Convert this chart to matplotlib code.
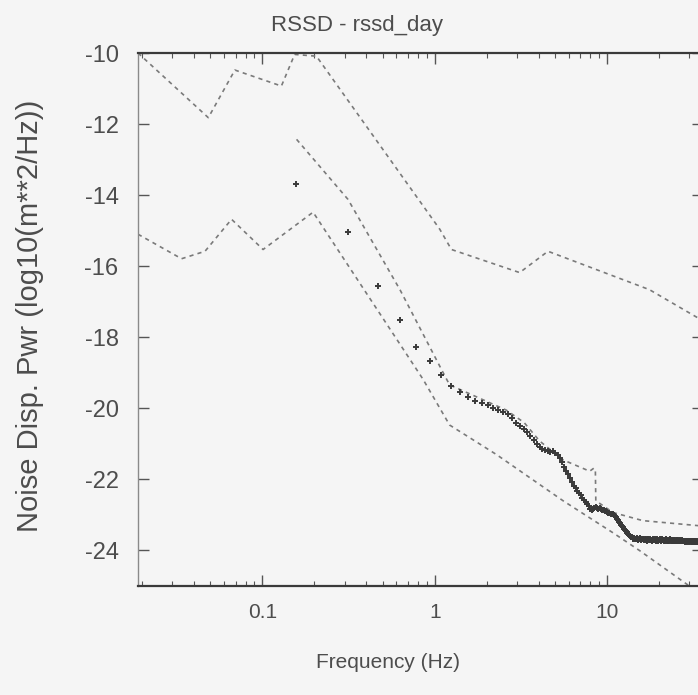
import matplotlib
matplotlib.use("Agg")
import matplotlib.pyplot as plt
from matplotlib.ticker import FixedLocator, LogLocator, NullFormatter

plt.rcParams["font.family"] = ["Liberation Sans", "DejaVu Sans"]

# Upper bound of the noise model
upper_f = [0.019, 0.0486, 0.0693, 0.129, 0.154, 0.206, 0.819, 1.07, 1.25, 3.11, 4.54, 17.6, 33.5, 36.0]
upper_db = [-10.0, -11.82, -10.48, -10.93, -10.04, -10.09, -14.17, -14.96, -15.53, -16.18, -15.58, -16.66, -17.45, -17.55]

# Middle (typical) curve
mid_f = [0.158, 0.314, 0.63, 1.12, 1.22, 2.6, 3.3, 4.06, 5.55, 7.92, 8.4, 8.55, 8.6, 10.8, 16.1, 33.5, 36.0]
mid_db = [-12.43, -14.12, -16.67, -19.0, -19.34, -20.05, -20.4, -20.92, -21.45, -21.77, -21.68, -21.75, -22.6, -22.93, -23.16, -23.3, -23.32]

# Lower bound of the noise model
lower_f = [0.019, 0.034, 0.0465, 0.0663, 0.101, 0.197, 0.855, 1.22, 2.28, 5.55, 10.8, 15.4, 30.0, 36.0]
lower_db = [-15.1, -15.79, -15.58, -14.68, -15.53, -14.48, -19.18, -20.47, -21.3, -22.6, -23.5, -24.0, -25.0, -25.3]

# Measured spectrum (rssd_day), one value per frequency bin
df = 0.15625
spec_db = [
    -13.70, -15.03, -16.56, -17.52, -18.26, -18.68, -19.06, -19.37, -19.54, -19.67,
    -19.80, -19.85, -19.92, -20.00, -20.06, -20.10, -20.16, -20.27, -20.40, -20.50,
    -20.58, -20.68, -20.77, -20.88, -21.00, -21.10, -21.15, -21.18, -21.20, -21.22,
    -21.20, -21.25, -21.30, -21.40, -21.52, -21.65, -21.75, -21.86, -21.97, -22.08,
    -22.18, -22.25, -22.32, -22.38, -22.45, -22.52, -22.57, -22.63, -22.70, -22.76,
    -22.82, -22.86, -22.83, -22.80, -22.78, -22.80, -22.82, -22.80, -22.83, -22.85,
    -22.86, -22.88, -22.90, -22.93, -22.94, -22.95, -22.96, -22.97, -22.98, -23.00,
    -23.03, -23.07, -23.11, -23.15, -23.19, -23.23, -23.27, -23.31, -23.35, -23.39,
    -23.43, -23.46, -23.49, -23.52, -23.55, -23.57, -23.59, -23.61, -23.63, -23.64,
    -23.68, -23.65, -23.67, -23.69, -23.66, -23.68, -23.70, -23.67, -23.66, -23.69,
    -23.70, -23.68, -23.67, -23.69, -23.71, -23.69, -23.68, -23.70, -23.72, -23.69,
    -23.68, -23.70, -23.71, -23.69, -23.70, -23.72, -23.70, -23.69, -23.71, -23.70,
    -23.68, -23.70, -23.72, -23.71, -23.69, -23.70, -23.72, -23.71, -23.70, -23.69,
    -23.71, -23.72, -23.70, -23.69, -23.71, -23.73, -23.71, -23.70, -23.72, -23.71,
    -23.69, -23.70, -23.72, -23.73, -23.71, -23.70, -23.72, -23.71, -23.69, -23.71,
    -23.73, -23.72, -23.70, -23.71, -23.73, -23.72, -23.70, -23.71, -23.72, -23.74,
    -23.72, -23.71, -23.70, -23.72, -23.73, -23.71, -23.72, -23.74, -23.73, -23.71,
    -23.72, -23.74, -23.73, -23.72, -23.71, -23.73, -23.74, -23.72, -23.73, -23.75,
    -23.73, -23.72, -23.74, -23.73, -23.72, -23.74, -23.75, -23.73, -23.72, -23.74,
    -23.75, -23.74, -23.73, -23.74, -23.76, -23.74, -23.73, -23.75, -23.74, -23.73,
    -23.75, -23.76, -23.74, -23.75, -23.74, -23.76, -23.75, -23.74, -23.76, -23.75,
    -23.74, -23.76, -23.75, -23.76, -23.75, -23.74, -23.76, -23.77, -23.75, -23.76,
    -23.77, -23.75, -23.76, -23.77, -23.76, -23.75, -23.77, -23.76, -23.78, -23.76,
]
spec_f = [df * (i + 1) for i in range(len(spec_db))]

y_ticks = [-10, -12, -14, -16, -18, -20, -22, -24]
x_ticks = [0.1, 1, 10]
x_tick_labels = ["0.1", "1", "10"]

text_col = "#4d4d4d"
line_col = "#7a7a7a"
bg = "#f5f5f5"

fig = plt.figure(figsize=(6.98, 6.95), dpi=100, facecolor=bg)
W, H = 698, 695
# axes run past the right edge of the figure (the original page is cropped)
ax = fig.add_axes([138 / W, (H - 586) / H, 565 / W, (586 - 53) / H], facecolor=bg)

dash = (0, (2.5, 2.5))
ax.plot(upper_f, upper_db, color=line_col, lw=1.2, ls=dash)
ax.plot(mid_f, mid_db, color=line_col, lw=1.2, ls=dash)
ax.plot(lower_f, lower_db, color=line_col, lw=1.2, ls=dash)
ax.plot(spec_f, spec_db, ls="none", marker="+", ms=5, mew=1.4, color="#3a3a3a")

ax.set_xscale("log")
ax.set_xlim(0.019, 36)
ax.set_ylim(-25, -10)

ax.xaxis.set_major_locator(FixedLocator(x_ticks))
ax.set_xticklabels(x_tick_labels)
ax.xaxis.set_minor_locator(LogLocator(base=10, subs=range(2, 10)))
ax.xaxis.set_minor_formatter(NullFormatter())
ax.set_yticks(y_ticks)
ax.set_yticklabels([str(v) for v in y_ticks])

ax.tick_params(which="both", direction="in", top=True, right=True, colors="#555555",
               labelcolor=text_col)
ax.tick_params(which="major", length=8, width=1.0)
ax.tick_params(which="minor", length=3.5, width=0.8)
ax.tick_params(axis="y", pad=14, labelsize=17)
ax.tick_params(axis="x", pad=12, labelsize=15)

for side in ["top", "bottom"]:
    ax.spines[side].set_color("#3a3a3a")
    ax.spines[side].set_linewidth(1.6)
for side in ["left", "right"]:
    ax.spines[side].set_color("#8a8a8a")
    ax.spines[side].set_linewidth(1.0)

fig.text(357 / W, 1 - 25 / H, "RSSD - rssd_day", ha="center", va="center",
         fontsize=16, color=text_col)
fig.text(388 / W, 1 - 662 / H, "Frequency (Hz)", ha="center", va="center",
         fontsize=15, color=text_col)
fig.text(30 / W, 1 - 316 / H, "Noise Disp. Pwr (log10(m**2/Hz))", ha="center",
         va="center", rotation=90, fontsize=21, color=text_col)

fig.savefig("out.png", dpi=100, facecolor=bg)
